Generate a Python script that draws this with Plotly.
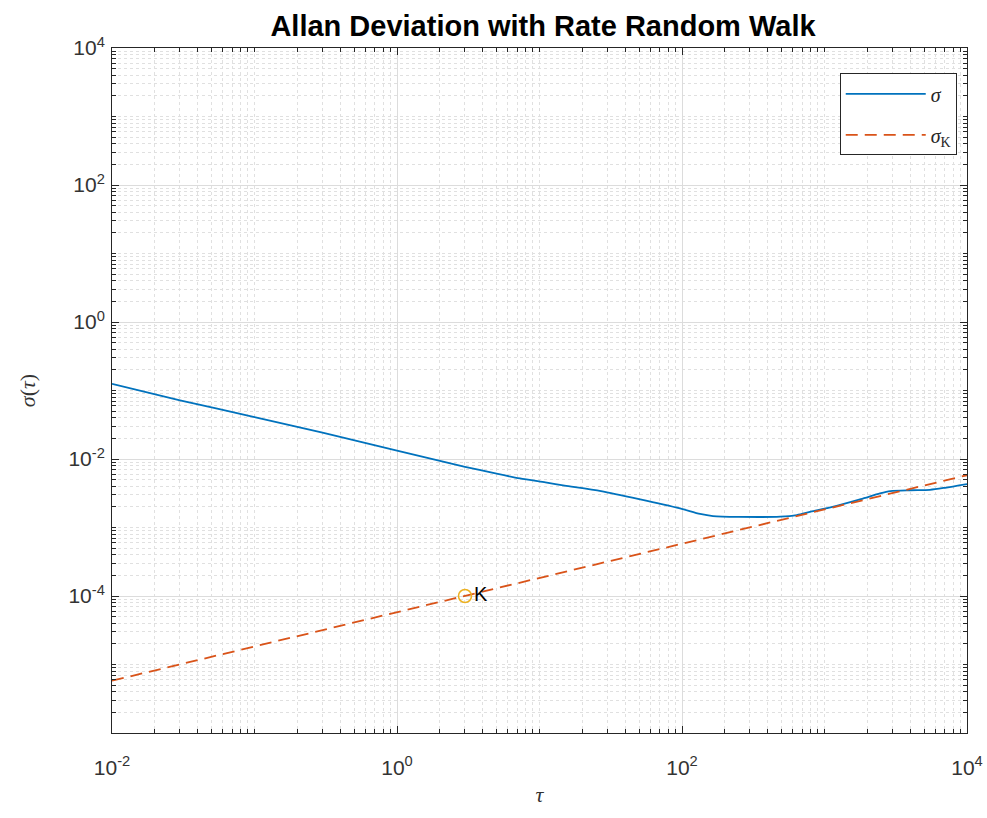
import plotly.graph_objects as go

tau = [0.01, 0.03, 0.1, 0.3, 1, 3, 5, 7.3, 11, 15, 27, 50, 97, 134, 165, 250,
       490, 640, 800, 1100, 1800, 2450, 2900, 4000, 5500, 7000, 10000]
sigma = [0.125, 0.072, 0.041, 0.0243, 0.0133, 0.0077, 0.0061, 0.0052, 0.00455,
         0.0041, 0.0034, 0.0026, 0.0019, 0.00158, 0.00147, 0.00143, 0.00144,
         0.00152, 0.0017, 0.00197, 0.0026, 0.00315, 0.0034, 0.0035, 0.00355,
         0.0038, 0.0043]

# rate random walk line endpoints
tau_k = [0.01, 10000]
sigma_k = [5.8e-6, 5.8e-3]

# K point
k_tau = [3]
k_val = [1e-4]

x_ticks = [1e-2, 1, 1e2, 1e4]
x_ticktext = ["10<sup>-2</sup>", "10<sup>0</sup>", "10<sup>2</sup>", "10<sup>4</sup>"]
y_ticks = [1e-6, 1e-4, 1e-2, 1, 1e2, 1e4]
y_ticktext = ["", "10<sup>-4</sup>", "10<sup>-2</sup>", "10<sup>0</sup>",
              "10<sup>2</sup>", "10<sup>4</sup>"]

BLUE = "#0072BD"
ORANGE = "#D95319"
YELLOW = "#EDB120"
AX = "#262626"

W, H = 987, 818


def minor_vals(lo, hi, majors):
    vals = []
    for e in range(lo, hi):
        for m in range(1, 10):
            v = m * 10.0 ** e
            if not any(abs(v - t) / t < 1e-9 for t in majors):
                vals.append(v)
    return vals


fig = go.Figure()

fig.add_trace(go.Scatter(
    x=tau, y=sigma, mode="lines", name="<i>σ</i>", legendgroup="a",
    line=dict(color=BLUE, width=1.8, shape="spline", smoothing=0.7),
))
fig.add_trace(go.Scatter(
    x=tau_k, y=sigma_k, mode="lines", name="<i>σ</i><sub>K</sub>", legendgroup="b",
    line=dict(color=ORANGE, width=1.8, dash="12px,7px"),
))
fig.add_trace(go.Scatter(
    x=k_tau, y=k_val, mode="markers+text", text=["K"],
    textposition="middle right",
    textfont=dict(size=20, color="black", family="Liberation Sans"),
    marker=dict(symbol="circle-open", size=13, color=YELLOW, line=dict(width=1.5, color=YELLOW)),
    showlegend=False,
))

axis_common = dict(
    type="log", automargin=False,
    showline=True, linecolor=AX, linewidth=1, mirror="allticks",
    ticks="inside", ticklen=7, tickcolor=AX,
    showgrid=True, gridcolor="#dcdcdc", gridwidth=1,
    zeroline=False,
    tickfont=dict(family="Liberation Sans", size=21, color="#333333"),
)

fig.update_xaxes(
    **axis_common,
    range=[-2, 4],
    tickmode="array", tickvals=x_ticks, ticktext=x_ticktext,
    ticklabelstandoff=16,
    minor=dict(tickmode="array", tickvals=minor_vals(-2, 4, x_ticks),
               ticks="inside", ticklen=4, tickcolor=AX,
               showgrid=True, gridcolor="#e0e0e0", griddash="dot", gridwidth=1),
    title=dict(text="<i>τ</i>", font=dict(family="Liberation Serif", size=22, color="#333333"),
               standoff=8),
)
fig.update_yaxes(
    **axis_common,
    range=[-6, 4],
    tickmode="array", tickvals=y_ticks, ticktext=y_ticktext,
    ticklabelstandoff=2,
    minor=dict(tickmode="array", tickvals=minor_vals(-6, 4, y_ticks),
               ticks="inside", ticklen=4, tickcolor=AX,
               showgrid=True, gridcolor="#e0e0e0", griddash="dot", gridwidth=1),
    title=dict(text="<i>σ</i>(<i>τ</i>)", font=dict(family="Liberation Serif", size=22, color="#333333"),
               standoff=26),
)

fig.update_layout(
    width=W, height=H,
    margin=dict(l=112, r=20, t=48, b=85, autoexpand=False),
    paper_bgcolor="white", plot_bgcolor="white",
    title=dict(text="<b>Allan Deviation with Rate Random Walk</b>",
               x=543 / W, xanchor="center", xref="container",
               y=1 - 26 / H, yanchor="middle", yref="container",
               font=dict(family="Liberation Sans", size=29, color="black")),
    legend=dict(x=0.988, xanchor="right", y=0.963, yanchor="top",
                bgcolor="white", bordercolor=AX, borderwidth=1,
                font=dict(family="Liberation Serif", size=20, color=AX),
                traceorder="grouped", tracegroupgap=12, itemwidth=80),
    showlegend=True,
)

# drop the default 8px page margin so the figure fills the window exactly
fig.write_html("out.html", config={"displayModeBar": False},
               post_script="document.body.style.margin='0';")
